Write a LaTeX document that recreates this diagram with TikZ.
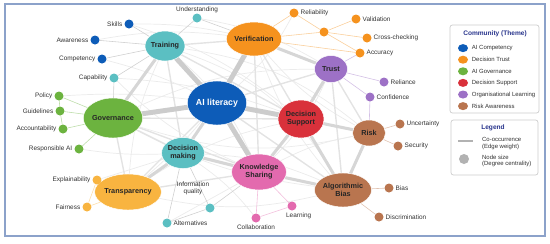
\documentclass[tikz,border=0pt]{standalone}
\usepackage{fontspec}
\setmainfont{Liberation Sans}
\usetikzlibrary{shapes.geometric,backgrounds}

\definecolor{aiblue}{RGB}{13,92,184}
\definecolor{trustorange}{RGB}{245,146,30}
\definecolor{govgreen}{RGB}{108,179,63}
\definecolor{supred}{RGB}{217,49,59}
\definecolor{learnpurple}{RGB}{157,113,198}
\definecolor{riskbrown}{RGB}{185,117,79}
\definecolor{skillteal}{RGB}{91,191,194}
\definecolor{transpyellow}{RGB}{248,180,64}
\definecolor{sharepink}{RGB}{227,106,174}
\definecolor{framecol}{RGB}{140,162,202}
\definecolor{titlenavy}{RGB}{40,52,140}
\definecolor{leafgrey}{RGB}{150,150,150}

\begin{document}
\begin{tikzpicture}[x=0.03cm, y=-0.03cm, font=\fontsize{5.5}{6}\selectfont,
  hub/.style={ellipse, fill=#1, draw=white, line width=0.4pt, inner sep=0pt,
    align=center, text=black!85, font=\fontsize{6.2}{6.8}\selectfont\bfseries},
  dot/.style={circle, fill=#1, inner sep=0pt, minimum size=0.27cm},
  every label/.style={text=black!80, inner sep=1.5pt, font=\fontsize{5.5}{6}\selectfont},
  link/.style={draw=black!#1, line cap=round},
  leaf/.style={draw=#1!45, line width=0.5pt},
  box/.style={draw=black!20, fill=white, rounded corners=2pt, line width=0.6pt},
  keytext/.style={text=black!80, font=\fontsize{5.1}{5.8}\selectfont}]
  \useasboundingbox (0,0) rectangle (550,243);
  \draw[framecol, line width=1.1pt] (5,4) rectangle (545,236);

  % themes
  \node[hub=aiblue, text=white, font=\fontsize{7.5}{8}\selectfont\bfseries,
    minimum width=1.74cm, minimum height=1.32cm] (ai) at (217,103) {AI literacy};
  \node[hub=skillteal, minimum width=1.2cm, minimum height=0.9cm] (train) at (165,46) {Training};
  \node[hub=trustorange, minimum width=1.23cm, minimum height=1.02cm] (verif) at (254,39) {Verification};
  \node[hub=learnpurple, minimum width=0.99cm, minimum height=0.81cm] (trust) at (331,69) {Trust};
  \node[hub=supred, minimum width=1.38cm, minimum height=1.14cm] (dsup) at (301,119) {Decision\\Support};
  \node[hub=riskbrown, minimum width=0.99cm, minimum height=0.78cm] (risk) at (369,133) {Risk};
  \node[hub=riskbrown, minimum width=1.26cm, minimum height=1.02cm] (abias) at (343,190) {Algorithmic\\Bias};
  \node[hub=sharepink, minimum width=1.29cm, minimum height=1.08cm] (know) at (259,172) {Knowledge\\Sharing};
  \node[hub=skillteal, minimum width=1.14cm, minimum height=0.93cm] (dmak) at (183,153) {Decision\\making};
  \node[hub=govgreen, minimum width=1.5cm, minimum height=1.2cm] (gov) at (113,118) {Governance};
  \node[hub=transpyellow, minimum width=1.32cm, minimum height=1.08cm] (transp) at (128,192) {Transparency};

  % terms
  \node[dot=aiblue, label=left:Skills] (skills) at (129,24) {};
  \node[dot=aiblue, label=left:Awareness] (aware) at (95,40) {};
  \node[dot=aiblue, label=left:Competency] (compet) at (102,59) {};
  \node[dot=skillteal, label=left:Capability] (capab) at (114,78) {};
  \node[dot=skillteal, label={[inner sep=0.5pt]above:Understanding}] (undst) at (197,18) {};
  \node[dot=govgreen, label=left:Policy] (policy) at (59,96) {};
  \node[dot=govgreen, label=left:Guidelines] (guide) at (60,111) {};
  \node[dot=govgreen, label=left:Accountability] (account) at (63,129) {};
  \node[dot=govgreen, label=left:Responsible AI] (respai) at (79,149) {};
  \node[dot=transpyellow, label=left:Explainability] (explain) at (97,180) {};
  \node[dot=transpyellow, label=left:Fairness] (fair) at (87,207) {};
  \node[dot=skillteal, label=right:Alternatives] (altern) at (167,223) {};
  \node[dot=skillteal] (infoq) at (210,208) {};
  \node[align=center, text=black!80] (infolbl) at (193,188) {Information\\quality};
  \node[dot=sharepink, label=below:Collaboration] (collab) at (256,218) {};
  \node[dot=sharepink, label={[xshift=0.2cm]below:Learning}] (learn) at (292,206) {};
  \node[dot=riskbrown, label=right:Bias] (bias) at (389,188) {};
  \node[dot=riskbrown, label=right:Discrimination] (discr) at (379,217) {};
  \node[dot=riskbrown, label=right:Uncertainty] (uncert) at (400,124) {};
  \node[dot=riskbrown, label=right:Security] (secur) at (398,146) {};
  \node[dot=learnpurple, label=right:Reliance] (relian) at (384,82) {};
  \node[dot=learnpurple, label=right:Confidence] (confid) at (370,97) {};
  \node[dot=trustorange, label=right:Accuracy] (accur) at (360,53) {};
  \node[dot=trustorange, label=right:Cross-checking] (cross) at (367,38) {};
  \node[dot=trustorange, label=right:Validation] (valid) at (356,19) {};
  \node[dot=trustorange, label=right:Reliability] (relia) at (294,13) {};
  \node[dot=trustorange] (vhub) at (324,32) {};

  \begin{scope}[on background layer]
    % faint co-occurrence web
    \foreach \a/\b/\t in {train/abias/20, gov/risk/-15, verif/transp/10, skills/dsup/10,
        aware/verif/8, compet/ai/5, capab/know/-10, undst/trust/10, relia/ai/10,
        trust/know/10, risk/know/-8, dmak/abias/10, transp/abias/-12, gov/trust/12,
        train/risk/15, verif/abias/-10, policy/ai/5, explain/dmak/0, altern/know/0,
        train/transp/-10, skills/verif/6, capab/dsup/8, gov/abias/-10, respai/dmak/-5,
        verif/risk/-10, transp/dsup/10, collab/dmak/-8, train/know/12}
      \draw[link=8, line width=0.6pt] (\a) to[bend left=\t] (\b);
    % light edges
    \foreach \a/\b in {train/verif, gov/transp, gov/dmak, trust/risk, train/dsup,
        verif/dsup, ai/trust, ai/transp, know/transp, gov/know, train/dmak,
        verif/know, ai/risk, ai/abias, trust/abias, gov/dsup}
      \draw[link=11, line width=1.2pt] (\a) -- (\b);
    % medium edges
    \foreach \a/\b in {ai/dmak, dsup/trust, dsup/risk, dsup/know, dsup/abias,
        risk/abias, know/abias, dmak/transp, verif/trust, train/gov, dmak/know}
      \draw[link=16, line width=2.6pt] (\a) -- (\b);
    % strongest edges
    \foreach \b in {train, verif, gov, dsup, know}
      \draw[link=20, line width=4.2pt] (ai) -- (\b);
    % term links
    \foreach \a/\b in {skills/train, aware/train, compet/train, capab/train, capab/gov,
        undst/train, undst/verif}
      \draw[leaf=leafgrey] (\a) -- (\b);
    \foreach \a/\b in {relia/vhub, vhub/verif, vhub/valid, vhub/cross, vhub/accur,
        relia/verif, accur/verif}
      \draw[leaf=trustorange] (\a) -- (\b);
    \foreach \a/\b in {accur/trust, relian/trust, confid/trust, confid/risk}
      \draw[leaf=learnpurple] (\a) -- (\b);
    \foreach \a/\b in {uncert/risk, secur/risk, bias/abias, discr/abias}
      \draw[leaf=riskbrown] (\a) -- (\b);
    \foreach \a/\b in {policy/gov, guide/gov, account/gov, respai/gov,
        policy/guide, guide/account}
      \draw[leaf=govgreen] (\a) -- (\b);
    \foreach \a/\b in {explain/transp, fair/transp, explain/fair}
      \draw[leaf=transpyellow] (\a) -- (\b);
    \foreach \a/\b in {collab/know, learn/know, collab/learn}
      \draw[leaf=sharepink] (\a) -- (\b);
    \foreach \a/\b in {altern/dmak, altern/infoq, infoq/know, infoq/dmak}
      \draw[leaf=leafgrey] (\a) -- (\b);
  \end{scope}

  % legend: communities
  \node[box, minimum width=2.67cm, minimum height=2.64cm] (commbox) at (494.5,69) {};
  \node[text=titlenavy, font=\fontsize{5.6}{6}\selectfont\bfseries] (commtitle) at (495,34) {Community (Theme)};
  \foreach \c/\t [count=\i] in {aiblue/AI Competency, trustorange/Decision Trust,
      govgreen/AI Governance, supred/Decision Support,
      learnpurple/Organisational Learning, riskbrown/Risk Awareness}
    \node[ellipse, fill=\c, inner sep=0pt, minimum width=0.3cm, minimum height=0.24cm,
      label={[keytext, label distance=0.05cm]right:\t}] (comm\i) at (463,{36.5+11.6*\i}) {};

  % legend: encoding
  \node[box, minimum width=2.61cm, minimum height=1.65cm] (keybox) at (494.5,147.5) {};
  \node[text=titlenavy, font=\fontsize{5.6}{6}\selectfont\bfseries] (keytitle) at (493,128) {Legend};
  \coordinate (keya) at (458,141);
  \coordinate (keyb) at (473,141);
  \draw[black!30, line width=1.2pt] (keya) -- (keyb);
  \node[keytext, anchor=west, align=left] (keyedge) at (478,143.5) {Co-occurrence\\(Edge weight)};
  \node[circle, fill=black!30, inner sep=0pt, minimum size=0.3cm] (keynode) at (464,159) {};
  \node[keytext, anchor=west, align=left] (keysize) at (478,161) {Node size\\(Degree centrality)};
\end{tikzpicture}
\end{document}
